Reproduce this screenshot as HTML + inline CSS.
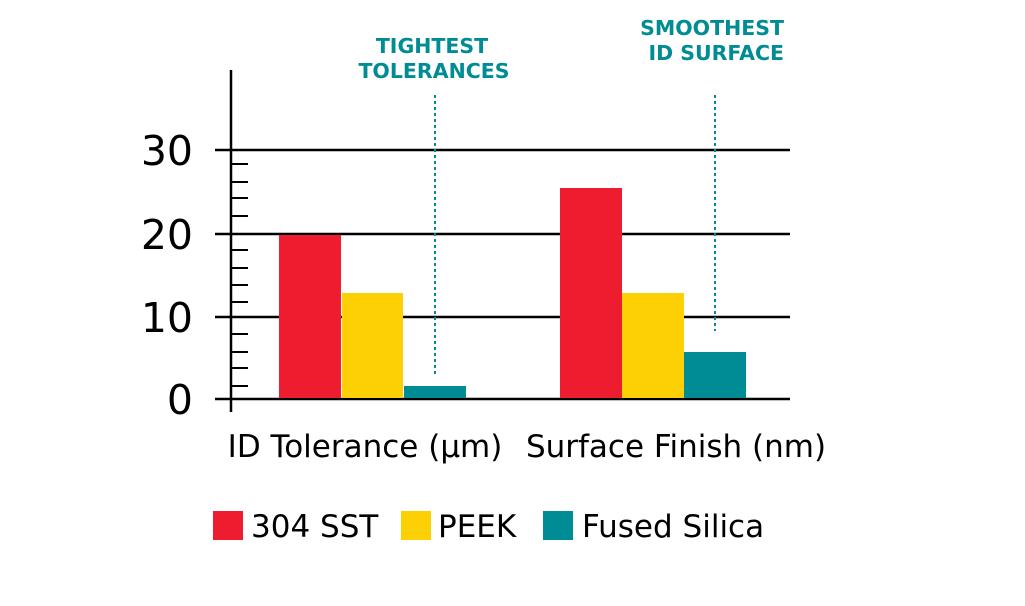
<!DOCTYPE html>
<html><head><style>body{margin:0;background:#fff}</style></head><body>
<svg width="1025" height="601" xmlns="http://www.w3.org/2000/svg" font-family="DejaVu Sans, sans-serif">
<rect width="1025" height="601" fill="#fff"/>
<g stroke="#000" stroke-width="2.5">
<line x1="215" y1="150" x2="790" y2="150"/>
<line x1="215" y1="234" x2="790" y2="234"/>
<line x1="215" y1="317" x2="790" y2="317"/>
<line x1="215" y1="399" x2="790" y2="399"/>
<line x1="231" y1="70" x2="231" y2="412"/>
</g>
<g stroke="#000" stroke-width="2">
<line x1="231" y1="164" x2="248" y2="164"/><line x1="231" y1="182" x2="248" y2="182"/>
<line x1="231" y1="198" x2="248" y2="198"/><line x1="231" y1="216" x2="248" y2="216"/>
<line x1="231" y1="250" x2="248" y2="250"/><line x1="231" y1="268" x2="248" y2="268"/>
<line x1="231" y1="285" x2="248" y2="285"/><line x1="231" y1="302" x2="248" y2="302"/>
<line x1="231" y1="334" x2="248" y2="334"/><line x1="231" y1="352" x2="248" y2="352"/>
<line x1="231" y1="368" x2="248" y2="368"/><line x1="231" y1="386" x2="248" y2="386"/>
</g>
<rect x="279" y="235" width="62" height="163" fill="#ed1c2e"/>
<rect x="342" y="293" width="61" height="105" fill="#fdd005"/>
<rect x="404" y="386" width="62" height="12" fill="#008c95"/>
<rect x="560" y="188" width="62" height="210" fill="#ed1c2e"/>
<rect x="622" y="293" width="62" height="105" fill="#fdd005"/>
<rect x="684" y="352" width="62" height="46" fill="#008c95"/>
<g stroke="#008c95" stroke-width="2" stroke-dasharray="3,3">
<line x1="435" y1="95" x2="435" y2="375"/>
<line x1="715" y1="95" x2="715" y2="331"/>
</g>
<g font-size="41" text-anchor="end" fill="#000">
<text x="193" y="165">30</text><text x="193" y="249">20</text>
<text x="193" y="332">10</text><text x="193" y="414">0</text>
</g>
<g font-size="20.5" font-weight="bold" fill="#008c95">
<text x="432" y="53" text-anchor="middle">TIGHTEST</text>
<text x="434" y="78" text-anchor="middle">TOLERANCES</text>
<text x="784" y="35" text-anchor="end">SMOOTHEST</text>
<text x="784" y="60" text-anchor="end">ID SURFACE</text>
</g>
<g font-size="31" fill="#000" text-anchor="middle">
<text x="365" y="457">ID Tolerance (µm)</text>
<text x="676" y="457">Surface Finish (nm)</text>
</g>
<rect x="213" y="511" width="30" height="29" fill="#ed1c2e"/>
<rect x="401" y="511" width="30" height="29" fill="#fdd005"/>
<rect x="543" y="511" width="30" height="29" fill="#008c95"/>
<g font-size="31" fill="#000">
<text x="251" y="537">304 SST</text>
<text x="438" y="537">PEEK</text>
<text x="582" y="537">Fused Silica</text>
</g>
</svg>
</body></html>
